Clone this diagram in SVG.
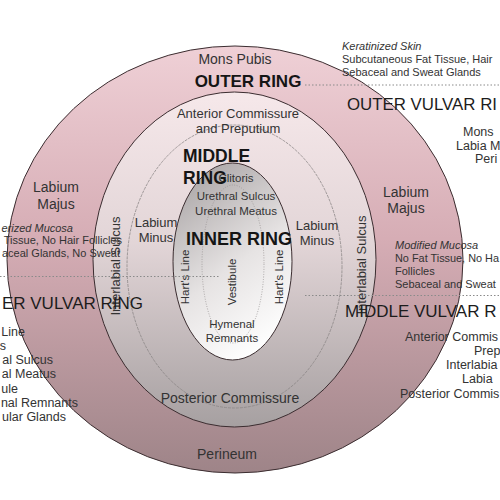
<svg xmlns="http://www.w3.org/2000/svg" width="500" height="500" viewBox="0 0 500 500">
<defs>
<linearGradient id="gOuter" x1="0" y1="0" x2="0" y2="1">
<stop offset="0" stop-color="#efd0d6"/>
<stop offset="0.45" stop-color="#d6adb5"/>
<stop offset="1" stop-color="#9e8488"/>
</linearGradient>
<linearGradient id="gMiddle" x1="0" y1="0" x2="0" y2="1">
<stop offset="0" stop-color="#f6e8ea"/>
<stop offset="0.45" stop-color="#e2d5d7"/>
<stop offset="1" stop-color="#a6a0a1"/>
</linearGradient>
<linearGradient id="gInner" x1="0.2" y1="0" x2="0.65" y2="1">
<stop offset="0" stop-color="#a9a4a5"/>
<stop offset="0.55" stop-color="#e6e3e3"/>
<stop offset="1" stop-color="#ffffff"/>
</linearGradient>
<style>
text{font-family:"Liberation Sans",Arial,sans-serif;fill:#333}
.ring{stroke:#3b2d30;stroke-width:1}
.thin{fill:none;stroke:#8c8687;stroke-width:0.8;stroke-dasharray:3 1}
.dot{fill:none;stroke:#9a9596;stroke-width:0.8;stroke-dasharray:1 1.5}
.lbl{font-size:14px;text-anchor:middle}
.sm{font-size:13px;text-anchor:middle}
.xs{font-size:11.5px;text-anchor:middle}
.hd{font-weight:bold;fill:#151515}
.big{font-size:17px;fill:#1c1c1c}
.note{font-size:11px}
.it{font-style:italic}
.lst{font-size:12.5px}
.end{text-anchor:end}
.conn{stroke:#8a8a8a;stroke-width:1;stroke-dasharray:1.5 2}
</style>
</defs>
<rect width="500" height="500" fill="#ffffff"/>

<g id="outer-ring">
<ellipse class="ring" cx="235" cy="259.5" rx="228" ry="213.5" fill="url(#gOuter)"/>
<text class="lbl" x="235" y="64">Mons Pubis</text>
<text class="hd" x="248" y="87" font-size="17" text-anchor="middle">OUTER RING</text>
<text class="lbl" x="56" y="192">Labium</text>
<text class="lbl" x="56" y="209">Majus</text>
<text class="lbl" x="406" y="197">Labium</text>
<text class="lbl" x="406" y="213">Majus</text>
<text class="lbl" x="227" y="459">Perineum</text>
</g>

<g id="middle-ring">
<ellipse class="ring" cx="234.5" cy="259.5" rx="141.5" ry="167.5" fill="url(#gMiddle)"/>
<ellipse class="thin" cx="234.5" cy="266.5" rx="107.5" ry="141.5"/>
<text class="sm" x="238" y="118">Anterior Commissure</text>
<text class="sm" x="238" y="133">and Preputium</text>
<text class="sm" x="156" y="227">Labium</text>
<text class="sm" x="156" y="242">Minus</text>
<text class="sm" x="317" y="230">Labium</text>
<text class="sm" x="317" y="245">Minus</text>
<text class="sm" transform="translate(120 266) rotate(-90)">Interlabial Sulcus</text>
<text class="sm" transform="translate(366 265) rotate(-90)">Interlabial Sulcus</text>
<text class="lbl" x="230" y="403" font-size="14.5">Posterior Commissure</text>
</g>

<g id="inner-ring">
<ellipse class="ring" cx="232.5" cy="261.5" rx="59.5" ry="98.5" fill="url(#gInner)" stroke="#4a4244"/>
<ellipse class="dot" cx="233" cy="264" rx="31" ry="79"/>
<text class="xs" x="236" y="182">Clitoris</text>
<text class="xs" x="236" y="200">Urethral Sulcus</text>
<text class="xs" x="236" y="215">Urethral Meatus</text>
<text class="xs" transform="translate(189 277) rotate(-90)">Hart's Line</text>
<text class="xs" transform="translate(283 277) rotate(-90)">Hart's Line</text>
<text class="xs" transform="translate(236 282) rotate(-90)">Vestibule</text>
<text class="xs" x="232" y="328">Hymenal</text>
<text class="xs" x="232" y="342">Remnants</text>
<text class="hd" x="239" y="245" font-size="18" text-anchor="middle">INNER RING</text>
</g>

<g id="middle-ring-title">
<text class="hd" x="183" y="162" font-size="17.5">MIDDLE</text>
<text class="hd" x="183" y="184" font-size="17.5">RING</text>
</g>

<g id="connectors">
<line class="conn" x1="305" y1="85" x2="500" y2="85"/>
<line class="conn" x1="0" y1="276.5" x2="220" y2="276.5"/>
<line class="conn" x1="305" y1="295.5" x2="500" y2="295.5"/>
</g>

<g id="outer-vulvar-ring-info">
<text class="note it" x="342" y="50">Keratinized Skin</text>
<text class="note" x="342" y="63">Subcutaneous Fat Tissue, Hair</text>
<text class="note" x="342" y="76">Sebaceal and Sweat Glands</text>
<text class="big" x="347" y="110" textLength="150" lengthAdjust="spacingAndGlyphs">OUTER VULVAR RI</text>
<text class="lst" x="463" y="136">Mons</text>
<text class="lst" x="456" y="150">Labia M</text>
<text class="lst" x="475" y="163">Peri</text>
</g>

<g id="middle-vulvar-ring-info">
<text class="note it" x="395" y="249">Modified Mucosa</text>
<text class="note" x="395" y="262" textLength="104" lengthAdjust="spacingAndGlyphs">No Fat Tissue, No Ha</text>
<text class="note" x="395" y="275">Follicles</text>
<text class="note" x="395" y="288">Sebaceal and Sweat</text>
<text class="big" x="345" y="317">MIDDLE VULVAR R</text>
<text class="lst" x="405" y="341">Anterior Commis</text>
<text class="lst" x="474" y="355">Prep</text>
<text class="lst" x="446" y="369">Interlabia</text>
<text class="lst" x="462" y="383">Labia</text>
<text class="lst" x="400" y="398">Posterior Commis</text>
</g>

<g id="inner-vulvar-ring-info">
<text class="note it end" x="73" y="232">erized Mucosa</text>
<text class="note end" x="122" y="244">Tissue, No Hair Follicles</text>
<text class="note end" x="120" y="257">aceal Glands, No Sweat</text>
<text class="big end" x="143" y="309">ER VULVAR RING</text>
<text class="lst end" x="25" y="336">Line</text>
<text class="lst end" x="6" y="350">s</text>
<text class="lst end" x="53" y="364">al Sulcus</text>
<text class="lst end" x="56" y="378">al Meatus</text>
<text class="lst end" x="18" y="393">ule</text>
<text class="lst end" x="78" y="407">nal Remnants</text>
<text class="lst end" x="66" y="421">ular Glands</text>
</g>
</svg>
